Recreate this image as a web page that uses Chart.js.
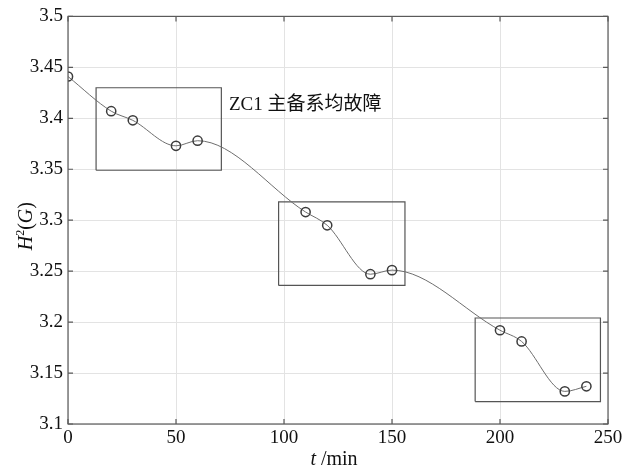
<!DOCTYPE html>
<html>
<head>
<meta charset="utf-8">
<script src="https://cdn.jsdelivr.net/npm/chart.js@4/dist/chart.umd.min.js"></script>
<style>
  html, body { margin: 0; padding: 0; background: #fff; }
  #wrap { width: 628px; height: 470px; }
</style>
</head>
<body>
<div id="wrap"><canvas id="hChart" width="628" height="470"></canvas></div>
<script>
// measured data
const times = [0, 20, 30, 50, 60, 110, 120, 140, 150, 200, 210, 230, 240];
const hValues = [3.441, 3.407, 3.398, 3.373, 3.378, 3.308, 3.295, 3.247, 3.251, 3.192, 3.181, 3.132, 3.137];

// highlight boxes (data coords)
const boxX1 = [13, 97.5, 188.5];
const boxX2 = [71, 156, 246.5];
const boxY1 = [3.349, 3.236, 3.122];
const boxY2 = [3.430, 3.318, 3.204];

const xTicks = [0, 50, 100, 150, 200, 250];
const yTicks = [3.1, 3.15, 3.2, 3.25, 3.3, 3.35, 3.4, 3.45, 3.5];

const noteText = 'ZC1 主备系均故障';

const serif = '"Liberation Serif", "Times New Roman", serif';
const cjk = '"Liberation Serif", "Noto Sans CJK SC", serif';

const mainPts = times.map((t, i) => ({ x: t, y: hValues[i] }));

const boxSets = boxX1.map((x1, i) => ({
    data: [
        { x: x1, y: boxY1[i] }, { x: boxX2[i], y: boxY1[i] },
        { x: boxX2[i], y: boxY2[i] }, { x: x1, y: boxY2[i] },
        { x: x1, y: boxY1[i] }
    ],
    borderColor: '#555',
    borderWidth: 1.2,
    pointRadius: 0,
    tension: 0,
    fill: false
}));

// frame, inner ticks, axis titles and the note
const decor = {
    id: 'decor',
    afterDraw(chart) {
        const ctx = chart.ctx;
        const a = chart.chartArea;
        const xs = chart.scales.x, ys = chart.scales.y;
        ctx.save();
        ctx.strokeStyle = '#5a5a5a';
        ctx.lineWidth = 1.2;
        ctx.strokeRect(a.left, a.top, a.right - a.left, a.bottom - a.top);
        ctx.beginPath();
        yTicks.forEach(v => {
            const p = ys.getPixelForValue(v);
            ctx.moveTo(a.left, p); ctx.lineTo(a.left + 5, p);
            ctx.moveTo(a.right, p); ctx.lineTo(a.right - 5, p);
        });
        xTicks.forEach(v => {
            const p = xs.getPixelForValue(v);
            ctx.moveTo(p, a.bottom); ctx.lineTo(p, a.bottom - 5);
            ctx.moveTo(p, a.top); ctx.lineTo(p, a.top + 5);
        });
        ctx.stroke();

        ctx.fillStyle = '#111';
        ctx.textBaseline = 'alphabetic';
        // x title: t /min
        const cx = (a.left + a.right) / 2 - 4;
        ctx.font = 'italic 20px ' + serif;
        const tW = ctx.measureText('t').width;
        ctx.font = '20px ' + serif;
        const rest = ' /min';
        const rW = ctx.measureText(rest).width;
        let sx = cx - (tW + rW) / 2;
        ctx.textAlign = 'left';
        ctx.font = 'italic 20px ' + serif;
        ctx.fillText('t', sx, 465);
        ctx.font = '20px ' + serif;
        ctx.fillText(rest, sx + tW, 465);

        // y title: H2(G) rotated
        ctx.save();
        ctx.translate(32, (a.top + a.bottom) / 2 + 6);
        ctx.rotate(-Math.PI / 2);
        const parts = [
            { s: 'H', f: 'italic 20px ' + serif, dy: 0 },
            { s: '2', f: '12px ' + serif, dy: -8 },
            { s: '(', f: '20px ' + serif, dy: 0 },
            { s: 'G', f: 'italic 20px ' + serif, dy: 0 },
            { s: ')', f: '20px ' + serif, dy: 0 }
        ];
        let total = 0;
        parts.forEach(p => { ctx.font = p.f; p.w = ctx.measureText(p.s).width; total += p.w; });
        let px = -total / 2;
        parts.forEach(p => { ctx.font = p.f; ctx.fillText(p.s, px, p.dy); px += p.w; });
        ctx.restore();

        // note next to the first box
        ctx.font = '19px ' + cjk;
        ctx.textBaseline = 'middle';
        ctx.fillText(noteText, xs.getPixelForValue(74.5), ys.getPixelForValue(3.413));
        ctx.restore();
    }
};

new Chart(document.getElementById('hChart').getContext('2d'), {
    type: 'line',
    data: {
        datasets: [{
            data: mainPts,
            borderColor: '#6e6e6e',
            borderWidth: 1,
            pointRadius: 4.6,
            pointBorderWidth: 1.5,
            pointBorderColor: '#3c3c3c',
            pointBackgroundColor: 'rgba(0,0,0,0)',
            cubicInterpolationMode: 'monotone',
            fill: false
        }, ...boxSets]
    },
    options: {
        responsive: false,
        animation: false,
        layout: { padding: { left: 0, right: 20, top: 14, bottom: 0 } },
        plugins: { legend: { display: false }, tooltip: { enabled: false } },
        scales: {
            x: {
                type: 'linear',
                min: 0, max: 250,
                afterBuildTicks: s => { s.ticks = xTicks.map(v => ({ value: v })); },
                afterFit: s => { s.height = 46; },
                grid: { color: '#e3e3e3', drawTicks: false },
                border: { display: false },
                ticks: { color: '#111', padding: 3, font: { family: serif, size: 19 }, maxRotation: 0 }
            },
            y: {
                min: 3.1, max: 3.5,
                afterBuildTicks: s => { s.ticks = yTicks.map(v => ({ value: v })); },
                afterFit: s => { s.width = 68; },
                grid: { color: '#e3e3e3', drawTicks: false },
                border: { display: false },
                ticks: { color: '#111', padding: 5, font: { family: serif, size: 19 },
                    callback: v => String(Math.round(v * 100) / 100) }
            }
        }
    },
    plugins: [decor]
});
</script>
</body>
</html>
